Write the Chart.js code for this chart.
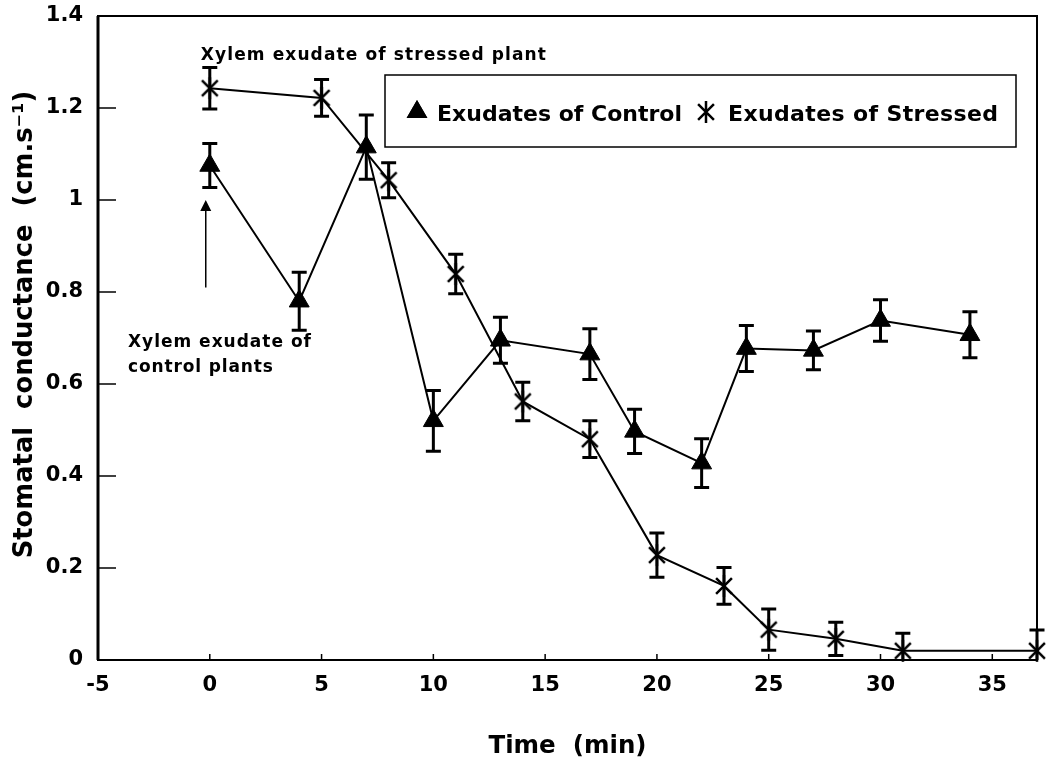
<!DOCTYPE html>
<html><head><meta charset="utf-8">
<script src="https://cdn.jsdelivr.net/npm/chart.js@4.4.1/dist/chart.umd.min.js"></script>
<style>html,body{margin:0;padding:0;background:#fff;}#wrap{width:1051px;height:763px;}</style>
</head><body><div id="wrap"><canvas id="c" width="1051" height="763"></canvas></div>
<script>
const controlTimes = [0, 4, 7, 10, 13, 17, 19, 22, 24, 27, 30, 34];
const controlValues = [1.075, 0.78, 1.115, 0.52, 0.695, 0.665, 0.497, 0.428, 0.677, 0.673, 0.738, 0.707];
const controlErrors = [0.048, 0.063, 0.07, 0.066, 0.05, 0.055, 0.048, 0.053, 0.05, 0.042, 0.045, 0.05];
const stressedTimes = [0, 5, 8, 11, 14, 17, 20, 23, 25, 28, 31, 37];
const stressedValues = [1.243, 1.222, 1.043, 0.839, 0.562, 0.48, 0.228, 0.161, 0.066, 0.046, 0.02, 0.02];
const stressedErrors = [0.045, 0.04, 0.038, 0.043, 0.042, 0.04, 0.048, 0.04, 0.045, 0.036, 0.038, 0.045];
const xTickValues = [-5, 0, 5, 10, 15, 20, 25, 30, 35];
const xTickLabels = ['-5', '0', '5', '10', '15', '20', '25', '30', '35'];
const yTickValues = [0, 0.2, 0.4, 0.6, 0.8, 1, 1.2, 1.4];
const yTickLabels = ['0', '0.2', '0.4', '0.6', '0.8', '1', '1.2', '1.4'];
const seriesLabels = ['Exudates of Control', 'Exudates of Stressed'];
const xTitle = 'Time  (min)';
const yTitle = '   Stomatal  conductance  (cm.s\u207B\u00B9)';
const noteStressed = 'Xylem exudate of stressed plant';
const noteControl = ['Xylem exudate of', 'control plants'];

const FONT = '"DejaVu Sans", "Liberation Sans", Arial, sans-serif';

function makeStar(size, lw) {
  const c = document.createElement('canvas');
  c.width = size; c.height = size;
  const g = c.getContext('2d');
  g.strokeStyle = '#000'; g.lineWidth = lw; g.lineCap = 'butt';
  const m = size / 2, r = size / 2 - 1, d = r * 0.72;
  g.beginPath();
  g.moveTo(m, m - r); g.lineTo(m, m + r);
  g.moveTo(m - d, m - d); g.lineTo(m + d, m + d);
  g.moveTo(m + d, m - d); g.lineTo(m - d, m + d);
  g.stroke();
  return c;
}
const starImg = makeStar(24, 2.5);

function pts(xs, ys) { return xs.map((x, i) => ({x: x, y: ys[i]})); }

function fitText(ctx, text, x, y, width) {
  ctx.letterSpacing = '0px';
  const w = ctx.measureText(text).width;
  const ls = (width - w) / Math.max(1, text.length - 1);
  ctx.letterSpacing = ls + 'px';
  ctx.fillText(text, x, y);
  ctx.letterSpacing = '0px';
}

const errorBars = {
  id: 'errorBars',
  afterDatasetsDraw(chart) {
    const ctx = chart.ctx, ys = chart.scales.y, a = chart.chartArea;
    const errs = [controlErrors, stressedErrors];
    ctx.save();
    ctx.beginPath(); ctx.rect(a.left - 20, a.top, a.right - a.left + 40, a.bottom - a.top); ctx.clip();
    ctx.strokeStyle = '#000'; ctx.lineWidth = 3;
    chart.data.datasets.forEach((ds, di) => {
      const meta = chart.getDatasetMeta(di);
      meta.data.forEach((p, i) => {
        const v = ds.data[i].y, e = errs[di][i];
        const y1 = ys.getPixelForValue(v + e), y2 = ys.getPixelForValue(v - e);
        const hw = 7.5;
        ctx.beginPath();
        ctx.moveTo(p.x, y1); ctx.lineTo(p.x, y2);
        ctx.moveTo(p.x - hw, y1); ctx.lineTo(p.x + hw, y1);
        ctx.moveTo(p.x - hw, y2); ctx.lineTo(p.x + hw, y2);
        ctx.stroke();
      });
    });
    ctx.restore();
  }
};

const decor = {
  id: 'decor',
  afterDraw(chart) {
    const ctx = chart.ctx, a = chart.chartArea, xs = chart.scales.x, ys = chart.scales.y;
    ctx.save();
    ctx.strokeStyle = '#000'; ctx.lineWidth = 2;
    ctx.strokeRect(a.left, a.top, a.right - a.left, a.bottom - a.top);
    ctx.lineWidth = 3;
    ctx.beginPath(); ctx.moveTo(a.left, a.top); ctx.lineTo(a.left, a.bottom); ctx.stroke();
    ctx.lineWidth = 1.5;
    yTickValues.forEach(v => {
      const y = ys.getPixelForValue(v);
      if (v <= 0 || v >= 1.4) return;
      ctx.beginPath(); ctx.moveTo(a.left, y); ctx.lineTo(a.left + 18, y); ctx.stroke();
    });
    xTickValues.forEach(v => {
      const x = xs.getPixelForValue(v);
      if (v <= -5) return;
      ctx.beginPath(); ctx.moveTo(x, a.bottom); ctx.lineTo(x, a.bottom - 6); ctx.stroke();
    });
    ctx.fillStyle = '#000';
    ctx.font = 'bold 17px ' + FONT;
    ctx.textBaseline = 'alphabetic'; ctx.textAlign = 'left';
    fitText(ctx, noteStressed, xs.getPixelForValue(-0.4), ys.getPixelForValue(1.304), 345);
    fitText(ctx, noteControl[0], xs.getPixelForValue(-3.66), ys.getPixelForValue(0.680), 183);
    fitText(ctx, noteControl[1], xs.getPixelForValue(-3.66), ys.getPixelForValue(0.626), 145);
    const ax = xs.getPixelForValue(-0.18), ay1 = ys.getPixelForValue(0.81), ay2 = ys.getPixelForValue(1.0);
    ctx.lineWidth = 1.5;
    ctx.beginPath(); ctx.moveTo(ax, ay1); ctx.lineTo(ax, ay2 + 8); ctx.stroke();
    ctx.beginPath(); ctx.moveTo(ax, ay2); ctx.lineTo(ax - 5.5, ay2 + 11); ctx.lineTo(ax + 5.5, ay2 + 11); ctx.closePath(); ctx.fill();
    ctx.lineWidth = 1.5;
    ctx.strokeRect(385, 75, 631, 72);
    ctx.font = 'bold 22px ' + FONT;
    const ds = chart.data.datasets;
    Chart.helpers.drawPoint(ctx, {pointStyle: 'triangle', radius: 12, rotation: 0, borderWidth: 0}, 417, 112);
    ctx.fill();
    fitText(ctx, ds[0].label, 437, 121, 245);
    ctx.drawImage(starImg, 706 - 12, 112 - 12);
    fitText(ctx, ds[1].label, 728, 121, 270);
    ctx.restore();
  }
};

new Chart(document.getElementById('c'), {
  type: 'line',
  data: {
    datasets: [
      {
        label: seriesLabels[0],
        data: pts(controlTimes, controlValues),
        borderColor: '#000', backgroundColor: '#000', borderWidth: 2,
        pointStyle: 'triangle', pointRadius: 11.5, pointBorderWidth: 1,
        pointBackgroundColor: '#000', pointBorderColor: '#000',
        tension: 0, clip: false
      },
      {
        label: seriesLabels[1],
        data: pts(stressedTimes, stressedValues),
        borderColor: '#000', backgroundColor: '#000', borderWidth: 2,
        pointStyle: starImg, pointRadius: 12,
        tension: 0, clip: false
      }
    ]
  },
  options: {
    responsive: false,
    devicePixelRatio: 1,
    animation: false,
    layout: {padding: {left: 0, right: 13, top: 16, bottom: 0}},
    plugins: {legend: {display: false}, tooltip: {enabled: false}},
    scales: {
      x: {
        type: 'linear', min: -5, max: 37,
        afterBuildTicks: s => { s.ticks = xTickValues.map(v => ({value: v})); },
        afterFit: s => { s.height = 103; s.paddingLeft = 0; s.paddingRight = 0; },
        grid: {display: false, drawTicks: false},
        border: {display: false},
        ticks: {
          font: {family: FONT, weight: 'bold', size: 21}, color: '#000',
          padding: 13, maxRotation: 0, autoSkip: false,
          callback: (v, i) => xTickLabels[i]
        },
        title: {display: true, text: xTitle, color: '#000',
          font: {family: FONT, weight: 'bold', size: 24.5}, padding: {top: 0, bottom: 2}}
      },
      y: {
        type: 'linear', min: 0, max: 1.4,
        afterBuildTicks: s => { s.ticks = yTickValues.map(v => ({value: v})); },
        afterFit: s => { s.width = 98; s.paddingTop = 0; s.paddingBottom = 0; },
        grid: {display: false, drawTicks: false},
        border: {display: false},
        ticks: {
          font: {family: FONT, weight: 'bold', size: 21}, color: '#000',
          padding: 15, autoSkip: false,
          callback: (v, i) => yTickLabels[i]
        },
        title: {display: true, text: yTitle, color: '#000',
          font: {family: FONT, weight: 'bold', size: 25.8}, padding: {top: 10, bottom: 0}}
      }
    }
  },
  plugins: [errorBars, decor]
});
</script>
</body></html>
